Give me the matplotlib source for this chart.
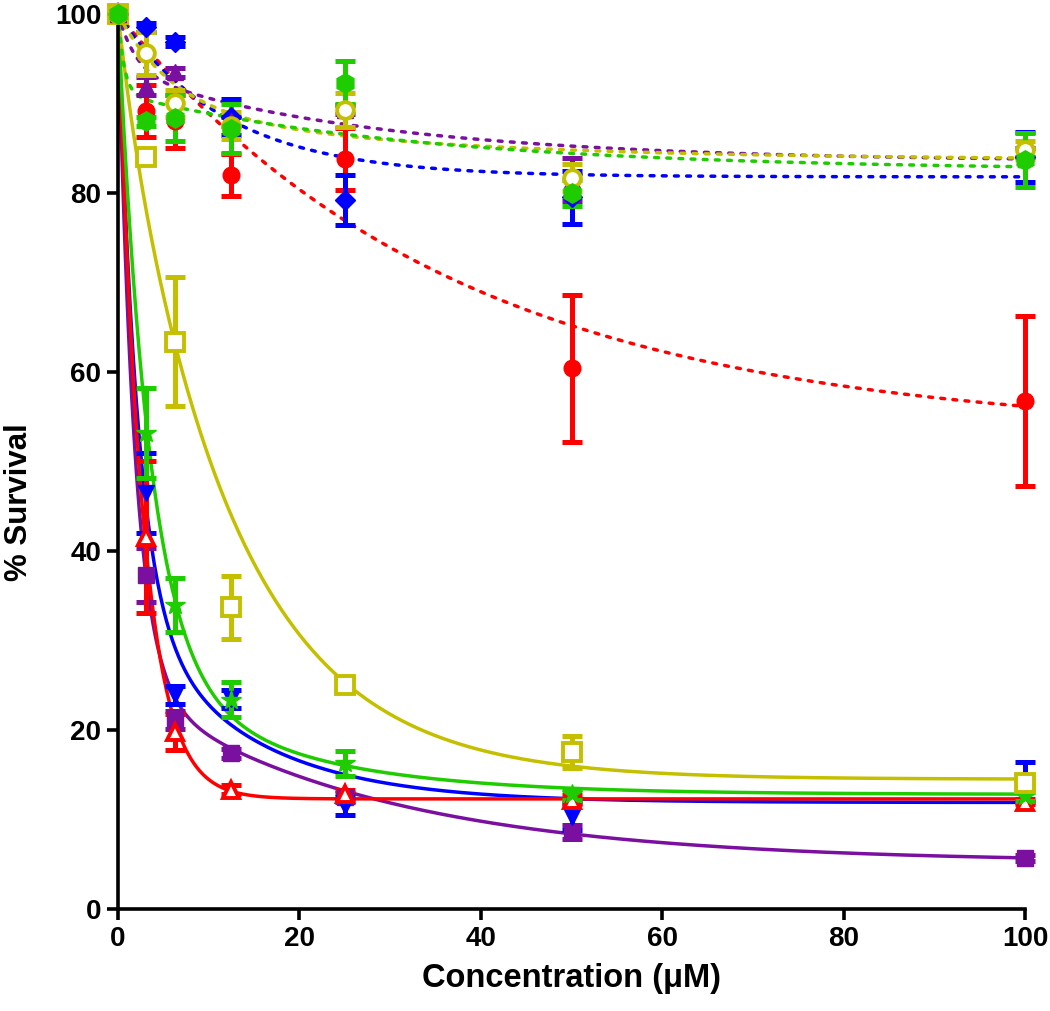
import numpy as np
import matplotlib
matplotlib.use("Agg")
import matplotlib.pyplot as plt

plt.rcParams['font.family'] = ['Liberation Sans', 'DejaVu Sans']
plt.rcParams['font.weight'] = 'bold'

# ---------------- data ----------------
conc = [0, 3.125, 6.25, 12.5, 25, 50, 100]

# solid-fit series (strong killing)
purple_sq = [100, 37.3, 21.1, 17.4, 12.5, 8.6, 5.7]
purple_sq_err = [0, 3.0, 1.0, 0.5, 0.5, 0.8, 0.3]
blue_vtri = [100, 46.5, 23.9, 23.5, 11.5, 10.3, 14.2]
blue_vtri_err = [0, 4.5, 1.0, 1.0, 1.0, 1.5, 2.2]
red_tri = [100, 41.6, 19.8, 13.3, 12.8, 12.2, 12.0]
red_tri_err = [0, 8.5, 2.0, 0.5, 0.5, 0.5, 0.3]
green_star = [100, 53.2, 34.0, 23.4, 16.3, 12.8, 12.6]
green_star_err = [0, 5.0, 3.0, 2.0, 1.4, 0.6, 0.5]
yellow_sq = [100, 84.0, 63.4, 33.7, 25.0, 17.5, 14.1]
yellow_sq_err = [0, 0.8, 7.2, 3.5, 0.8, 1.8, 0.8]

# dotted-fit series (weak killing)
red_circ = [100, 89.2, 88.0, 82.0, 83.8, 60.4, 56.8]
red_circ_err = [0, 2.9, 3.0, 2.3, 3.5, 8.2, 9.5]
blue_dia = [100, 98.5, 96.9, 88.5, 79.2, 79.5, 84.0]
blue_dia_err = [0, 0.5, 0.5, 2.0, 2.8, 3.0, 2.8]
purple_tri = [100, 92.0, 93.5, 88.0, 89.3, 81.5, 84.5]
purple_tri_err = [0, 1.0, 0.5, 0.5, 0.5, 2.4, 0.5]
yellow_circ = [100, 95.6, 90.0, 87.5, 89.3, 81.7, 84.8]
yellow_circ_err = [0, 2.4, 1.5, 1.5, 1.9, 1.5, 1.0]
green_hex = [100, 88.0, 88.4, 87.2, 92.3, 80.0, 83.7]
green_hex_err = [0, 0.5, 2.6, 2.7, 2.4, 1.5, 3.0]

# decay-fit parameters: plateau, fast amplitude, fast rate, slow amplitude, slow rate
fit_purple_sq = [5.2, 74.8, 0.54, 20.0, 0.0367]
fit_blue_vtri = [11.9, 65.1, 0.47, 23.0, 0.08]
fit_red_tri = [12.3, 87.7, 0.37, 0.0, 0.0]
fit_green_star = [12.8, 72.6, 0.29, 14.6, 0.061]
fit_yellow_sq = [14.5, 5.5, 0.5, 80.0, 0.08]
fit_red_circ = [53.0, 47.0, 0.027, 0.0, 0.0]
fit_blue_dia = [81.8, 18.2, 0.085, 0.0, 0.0]
fit_purple_tri = [83.5, 6.5, 0.5, 10.0, 0.035]
fit_yellow_circ = [83.7, 10.6, 0.163, 5.7, 0.033]
fit_green_hex = [82.5, 8.9, 1.5, 8.6, 0.03]

xticks = [0, 20, 40, 60, 80, 100]
yticks = [0, 20, 40, 60, 80, 100]

# ---------------- style ----------------
PURPLE = '#7A0FA0'
BLUE = '#0000FF'
RED = '#FF0000'
GREEN = '#1ECC00'
YELLOW = '#C4C000'

solid = dict(ls='-')
dotted = dict(ls=(0, (1.1, 2.4)), dash_capstyle='round')

series = [
    (purple_sq, purple_sq_err, fit_purple_sq, PURPLE, 's', True, 11, solid),
    (blue_vtri, blue_vtri_err, fit_blue_vtri, BLUE, 'v', True, 12, solid),
    (red_tri, red_tri_err, fit_red_tri, RED, '^', False, 12, solid),
    (green_star, green_star_err, fit_green_star, GREEN, '*', True, 15, solid),
    (yellow_sq, yellow_sq_err, fit_yellow_sq, YELLOW, 's', False, 13, solid),
    (red_circ, red_circ_err, fit_red_circ, RED, 'o', True, 12, dotted),
    (blue_dia, blue_dia_err, fit_blue_dia, BLUE, 'D', True, 10, dotted),
    (purple_tri, purple_tri_err, fit_purple_tri, PURPLE, '^', True, 12, dotted),
    (yellow_circ, yellow_circ_err, fit_yellow_circ, YELLOW, 'o', False, 12, dotted),
    (green_hex, green_hex_err, fit_green_hex, GREEN, 'h', True, 14, dotted),
]

fig = plt.figure(figsize=(10.5, 10.11), dpi=100)
ax = fig.add_axes([0.1124, 0.1009, 0.8638, 0.8853])

xs = np.linspace(0, 100, 600)
for vals, errs, fit, col, mk, filled, ms, lstyle in series:
    P, a1, k1, a2, k2 = fit
    curve = P + a1 * np.exp(-k1 * xs) + a2 * np.exp(-k2 * xs)
    ax.plot(xs, curve, color=col, lw=2.5, zorder=2, **lstyle)

for vals, errs, fit, col, mk, filled, ms, lstyle in series:
    x = np.array(conc[1:])
    y = np.array(vals[1:])
    e = np.array(errs[1:])
    eb = ax.errorbar(x, y, yerr=e, fmt='none', ecolor=col, elinewidth=3.6,
                     capsize=7, capthick=3.6, zorder=3)
    for art in eb.get_children():
        art.set_clip_on(False)
    ax.plot(conc, vals, ls='none', marker=mk, ms=ms,
            mfc=(col if filled else 'white'), mec=col,
            mew=(1 if filled else 2.8), clip_on=False, zorder=4)

ax.set_xlim(0, 100)
ax.set_ylim(0, 100)
ax.set_xticks(xticks)
ax.set_yticks(yticks)
ax.spines['top'].set_visible(False)
ax.spines['right'].set_visible(False)
for s in ('left', 'bottom'):
    ax.spines[s].set_linewidth(2.6)
ax.tick_params(direction='out', length=8, width=2.6, labelsize=20, pad=4)
for lab in ax.get_xticklabels() + ax.get_yticklabels():
    lab.set_fontweight('bold')

ax.set_xlabel('Concentration (\u03bcM)', fontsize=23.5, fontweight='bold', labelpad=8)
ax.set_ylabel('% Survival', fontsize=22.5, fontweight='bold')
ax.yaxis.set_label_coords(-0.093, 0.455)

fig.savefig('out.png', dpi=100)
